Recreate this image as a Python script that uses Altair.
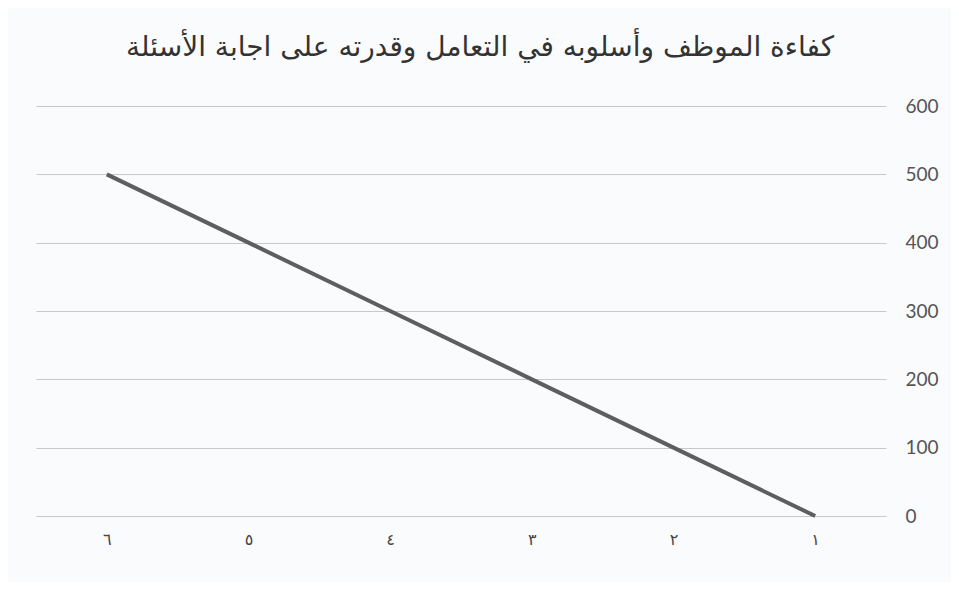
import altair as alt
import pandas as pd

categories = ["١", "٢", "٣", "٤", "٥", "٦"]
values = [0, 100, 200, 300, 400, 500]
y_ticks = [0, 100, 200, 300, 400, 500, 600]
title_text = "كفاءة الموظف وأسلوبه في التعامل وقدرته على اجابة الأسئلة"

df = pd.DataFrame({"cat": categories, "val": values})
order = list(reversed(categories))

chart = alt.Chart(df).mark_line(color="#5e5e5e", strokeWidth=4).encode(
    x=alt.X("cat:O", sort=order,
            scale=alt.Scale(type="point", padding=0.5),
            axis=alt.Axis(title=None, labelAngle=0, domain=False, ticks=False, grid=False,
                          labelFont="DejaVu Sans", labelFontSize=16, labelColor="#444444",
                          labelPadding=15)),
    y=alt.Y("val:Q", scale=alt.Scale(domain=[0, 600], nice=False),
            axis=alt.Axis(title=None, orient="right", values=y_ticks, domain=False, ticks=False,
                          grid=True, gridColor="#c8c8c8", gridWidth=1,
                          labelFont="Lato", labelFontSize=19, labelColor="#555555",
                          labelAlign="left", labelPadding=19)),
).properties(
    width=850,
    height=410,
    title=alt.TitleParams(title_text, font="DejaVu Sans", fontSize=28, fontWeight="normal",
                          color="#333333", anchor="middle", dx=19, offset=35),
    autosize=alt.AutoSizeParams(type="none"),
    padding={"left": 28, "top": 98, "right": 65, "bottom": 66},
    background="#fafbfd",
).configure_view(stroke=None)

chart.save("out.html", embed_options={"renderer": "svg", "actions": False})
